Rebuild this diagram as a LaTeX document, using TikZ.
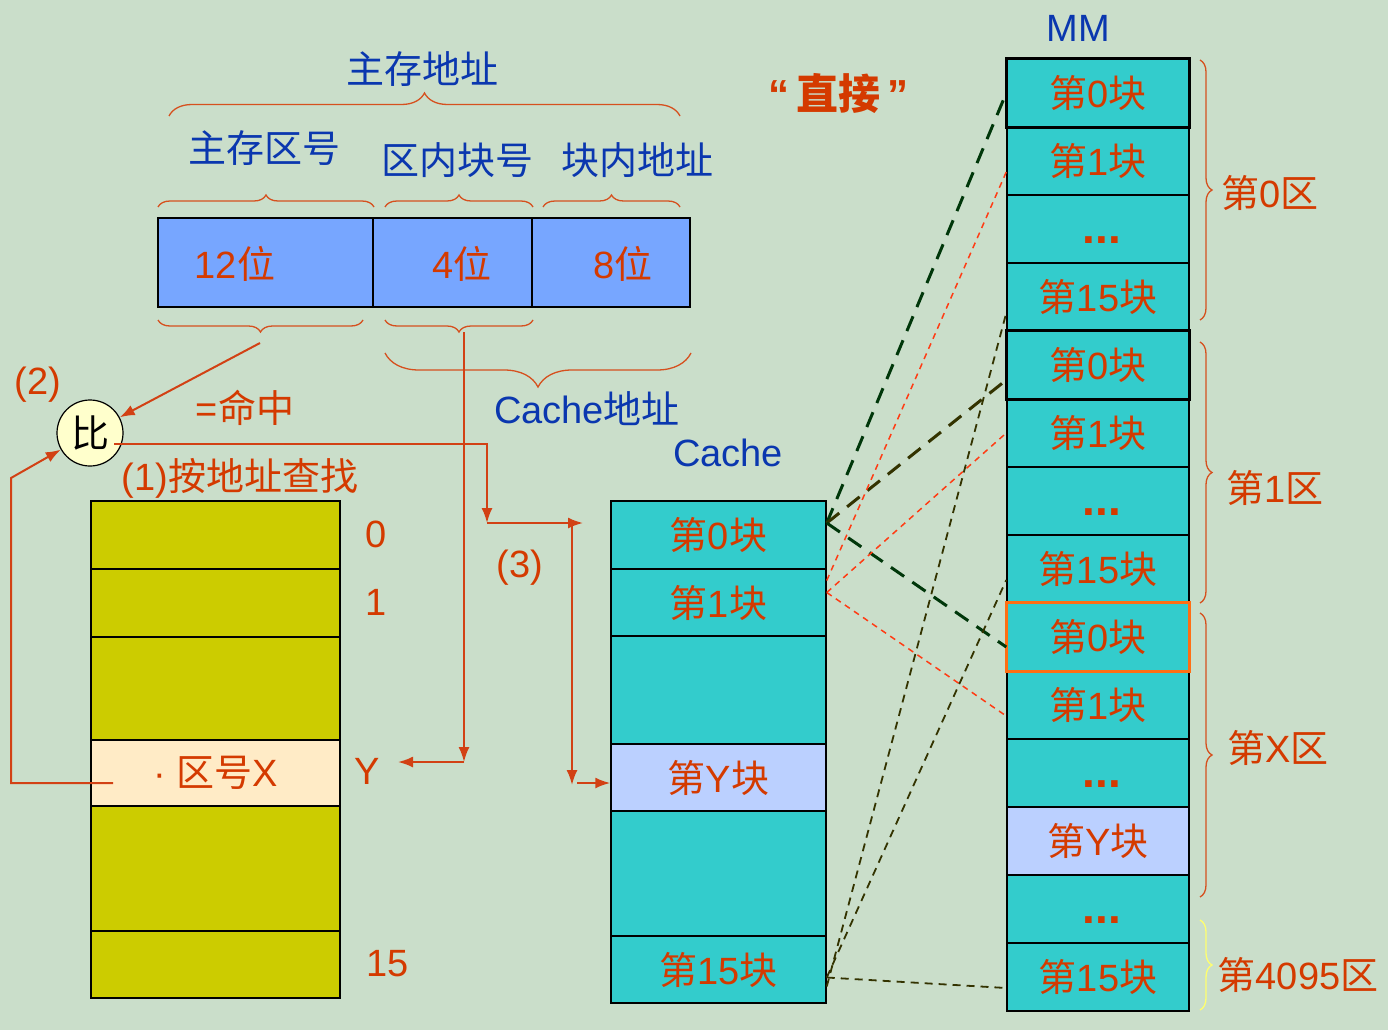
\documentclass[tikz,border=0pt]{standalone}
\usepackage{fontspec}
\setmainfont{Liberation Sans}
\newfontfamily\cjk{Noto Sans CJK SC}
\usetikzlibrary{decorations.pathreplacing,arrows.meta}

\definecolor{bgcol}{RGB}{202,222,202}
\definecolor{addrblue}{RGB}{119,166,255}
\definecolor{tabyellow}{RGB}{204,204,0}
\definecolor{peach}{RGB}{255,235,198}
\definecolor{cyanc}{RGB}{51,204,204}
\definecolor{ltblue}{RGB}{187,208,255}
\definecolor{txtred}{RGB}{212,58,0}
\definecolor{flowred}{RGB}{210,65,20}
\definecolor{brcol}{RGB}{214,80,30}
\definecolor{txtblue}{RGB}{10,55,175}
\definecolor{dkgreen}{RGB}{0,55,10}
\definecolor{olive}{RGB}{51,51,0}
\definecolor{dashred}{RGB}{255,60,20}
\definecolor{orangec}{RGB}{255,110,20}
\definecolor{brcyellow}{RGB}{255,255,110}
\definecolor{cmpfill}{RGB}{255,255,204}

\newcommand\zh[1]{{\cjk #1}}
\newcommand\mmdots{\vphantom{\zh{第}}{\fontsize{46}{48}\selectfont\bfseries\,...}}

\tikzset{
  cell/.style={draw=black, line width=1.5pt, inner sep=0pt, text=txtred},
  addr/.style={cell, fill=addrblue, minimum height=89pt},
  ltab/.style={cell, fill=tabyellow, minimum width=249pt},
  ctab/.style={cell, fill=cyanc, minimum width=215pt},
  mmcell/.style={cell, fill=cyanc, minimum width=182pt, minimum height=68pt},
  redtxt/.style={text=txtred, inner sep=0pt},
  bluetxt/.style={text=txtblue, inner sep=0pt},
  brc/.style={decorate, draw=brcol, line width=1.3pt},
  flow/.style={draw=flowred, line width=2pt},
  gdash/.style={draw=dkgreen, line width=3pt, dash pattern=on 16pt off 10pt},
  odash/.style={draw=olive, line width=3pt, dash pattern=on 16pt off 10pt},
  rdash/.style={draw=dashred, line width=1.5pt, dash pattern=on 6pt off 5pt},
  tdash/.style={draw=olive, line width=1.8pt, dash pattern=on 8pt off 6pt}
}

\begin{document}
\begin{tikzpicture}[x=1pt,y=-1pt,font=\fontsize{38}{40}\selectfont]
	\useasboundingbox (0,0) rectangle (1388,1030);
	\fill[bgcol] (0,0) rectangle (1388,1030);

	% main memory address
	\node[bluetxt] (mainaddr) at (422,69) {\zh{主存地址}};
	\node[bluetxt] (zoneno) at (264,148) {\zh{主存区号}};
	\node[bluetxt] (blockno) at (457,160) {\zh{区内块号}};
	\node[bluetxt] (inaddr) at (637,160) {\zh{块内地址}};

	\draw[brc, decoration={brace,amplitude=23pt}] (169,116) -- (680,116);
	\draw[brc, decoration={brace,amplitude=12pt}] (158,207) -- (374,207);
	\draw[brc, decoration={brace,amplitude=12pt}] (385,207) -- (533,207);
	\draw[brc, decoration={brace,amplitude=12pt}] (543,207) -- (680,207);

	\node[addr, minimum width=215pt] (a1) at (265.5,262.5) {};
	\node[addr, minimum width=159pt] (a2) at (452.5,262.5) {};
	\node[addr, minimum width=158pt] (a3) at (611,262.5) {};
	\node[redtxt] (bits12) at (235,264) {12\zh{位}};
	\node[redtxt] (bits4) at (462,264) {4\zh{位}};
	\node[redtxt] (bits8) at (623,264) {8\zh{位}};

	\draw[brc, decoration={brace,amplitude=12pt,mirror}] (158,320) -- (363,320);
	\draw[brc, decoration={brace,amplitude=12pt,mirror}] (385,320) -- (533,320);
	\draw[brc, decoration={brace,amplitude=34pt,mirror}] (385,353) -- (691,353);

	\node[bluetxt] (cacheaddr) at (587,409) {Cache\zh{地址}};
	\node[bluetxt] (cachelbl) at (728,453) {Cache};
	\node[bluetxt] (mmlbl) at (1078,28) {MM};
	\node[redtxt, font=\fontsize{42}{44}\selectfont\bfseries] (direct) at (838,93) {“\,\zh{直接}\,”};

	% compare
	\node[circle, draw=black, line width=1.2pt, fill=cmpfill, minimum size=66pt, inner sep=0pt] (cmp) at (90,433) {\zh{比}};
	\node[redtxt] (step2) at (38,385) {(2)};
	\node[redtxt] (hit) at (245,408) {=\zh{命中}};
	\node[redtxt] (step1) at (240,478) {(1)\zh{按地址查找}};
	\node[redtxt] (step3) at (520,568) {(3)};

	% tag table
	\node[ltab, minimum height=68pt] (l0) at (215.5,535) {};
	\node[ltab, minimum height=68pt] (l1) at (215.5,603) {};
	\node[ltab, minimum height=103pt] (l2) at (215.5,688.5) {};
	\node[ltab, fill=peach, minimum height=66pt] (lx) at (215.5,773) {· \zh{区号}X};
	\node[ltab, minimum height=125pt] (l4) at (215.5,868.5) {};
	\node[ltab, minimum height=67pt] (l5) at (215.5,964.5) {};
	\node[redtxt] (idx0) at (376,534) {0};
	\node[redtxt] (idx1) at (376,602) {1};
	\node[redtxt] (idxy) at (367,771) {Y};
	\node[redtxt] (idx15) at (388,964) {15};

	% cache
	\node[ctab, minimum height=68pt] (c0) at (718.5,535) {\zh{第}0\zh{块}};
	\node[ctab, minimum height=67pt] (c1) at (718.5,602.5) {\zh{第}1\zh{块}};
	\node[ctab, minimum height=108pt] (cb1) at (718.5,690) {};
	\node[ctab, fill=ltblue, minimum height=67pt] (cy) at (718.5,777.5) {\zh{第}Y\zh{块}};
	\node[ctab, minimum height=125pt] (cb2) at (718.5,873.5) {};
	\node[ctab, minimum height=67pt] (c15) at (718.5,969.5) {\zh{第}15\zh{块}};

	% main memory
	\node[mmcell] (m0) at (1098,93) {\zh{第}0\zh{块}};
	\node[mmcell] (m1) at (1098,161) {\zh{第}1\zh{块}};
	\node[mmcell] (m2) at (1098,229) {\mmdots};
	\node[mmcell] (m3) at (1098,297) {\zh{第}15\zh{块}};
	\node[mmcell] (m4) at (1098,365) {\zh{第}0\zh{块}};
	\node[mmcell] (m5) at (1098,433) {\zh{第}1\zh{块}};
	\node[mmcell] (m6) at (1098,501) {\mmdots};
	\node[mmcell] (m7) at (1098,569) {\zh{第}15\zh{块}};
	\node[mmcell] (m8) at (1098,637) {\zh{第}0\zh{块}};
	\node[mmcell] (m9) at (1098,705) {\zh{第}1\zh{块}};
	\node[mmcell] (m10) at (1098,773) {\mmdots};
	\node[mmcell, fill=ltblue] (m11) at (1098,841) {\zh{第}Y\zh{块}};
	\node[mmcell] (m12) at (1098,909) {\mmdots};
	\node[mmcell] (m13) at (1098,977) {\zh{第}15\zh{块}};
	\draw[line width=3pt] (m0.north west) rectangle (m0.south east);
	\draw[line width=3pt] (m4.north west) rectangle (m4.south east);
	\draw[orangec, line width=3pt] (m8.north west) rectangle (m8.south east);

	\draw[brc, decoration={brace,amplitude=12pt}] (1200,60) -- (1200,320);
	\draw[brc, decoration={brace,amplitude=12pt}] (1200,342) -- (1200,603);
	\draw[brc, decoration={brace,amplitude=12pt}] (1200,613) -- (1200,897);
	\draw[brc, draw=brcyellow, decoration={brace,amplitude=12pt}] (1200,920) -- (1200,1010);
	\node[redtxt] (zone0) at (1270,193) {\zh{第}0\zh{区}};
	\node[redtxt] (zone1) at (1275,488) {\zh{第}1\zh{区}};
	\node[redtxt] (zonex) at (1278,748) {\zh{第}X\zh{区}};
	\node[redtxt] (zonelast) at (1298,975) {\zh{第}4095\zh{区}};

	% mapping
	\draw[gdash] ([yshift=12pt]c0.east) -- (m0.west);
	\draw[odash] ([yshift=12pt]c0.east) -- ([yshift=-15pt]m4.west);
	\draw[gdash] ([yshift=12pt]c0.east) -- ([yshift=-10pt]m8.west);
	\draw[rdash] ([yshift=22pt]c1.east) -- ([yshift=-11pt]m1.west);
	\draw[rdash] ([yshift=10pt]c1.east) -- (m5.west);
	\draw[rdash] ([yshift=10pt]c1.east) -- ([yshift=-11pt]m9.west);
	\draw[tdash] ([yshift=-17pt]c15.east) -- ([yshift=-16pt]m3.west);
	\draw[tdash] ([yshift=-8pt]c15.east) -- ([yshift=-11pt]m7.west);
	\draw[tdash] ([yshift=-8pt]c15.east) -- ([yshift=-11pt]m13.west);

	% lookup flow
	\coordinate (q1) at (260,343);
	\coordinate (q2) at (464,332);
	\coordinate (hitout) at (114,444);
	\coordinate (turn1) at (487,523);
	\coordinate (tee) at (572,523);
	\coordinate (c0in) at (583,523);
	\coordinate (dropy) at (572,785);
	\coordinate (yin) at (577,783);
	\coordinate (turn2) at (464,762);
	\coordinate (yout) at (398,762);
	\coordinate (xout) at (113,783);
	\coordinate (fbk) at (11,478);

	\draw[flow, -{Latex[length=15pt,width=11pt]}] (q1) -- (cmp);
	\draw[flow, -{Latex[length=15pt,width=11pt]}] (hitout) -| (turn1);
	\draw[flow, -{Latex[length=15pt,width=11pt]}] (turn1) -- (c0in);
	\draw[flow, -{Latex[length=15pt,width=11pt]}] (tee) -- (dropy);
	\draw[flow, -{Latex[length=15pt,width=11pt]}] (yin) -- (yin -| cy.west);
	\draw[flow, -{Latex[length=15pt,width=11pt]}] (q2) -- (turn2);
	\draw[flow, -{Latex[length=15pt,width=11pt]}] (turn2) -- (yout);
	\draw[flow, -{Latex[length=15pt,width=11pt]}] (xout) -| (fbk) -- (cmp);
\end{tikzpicture}
\end{document}
